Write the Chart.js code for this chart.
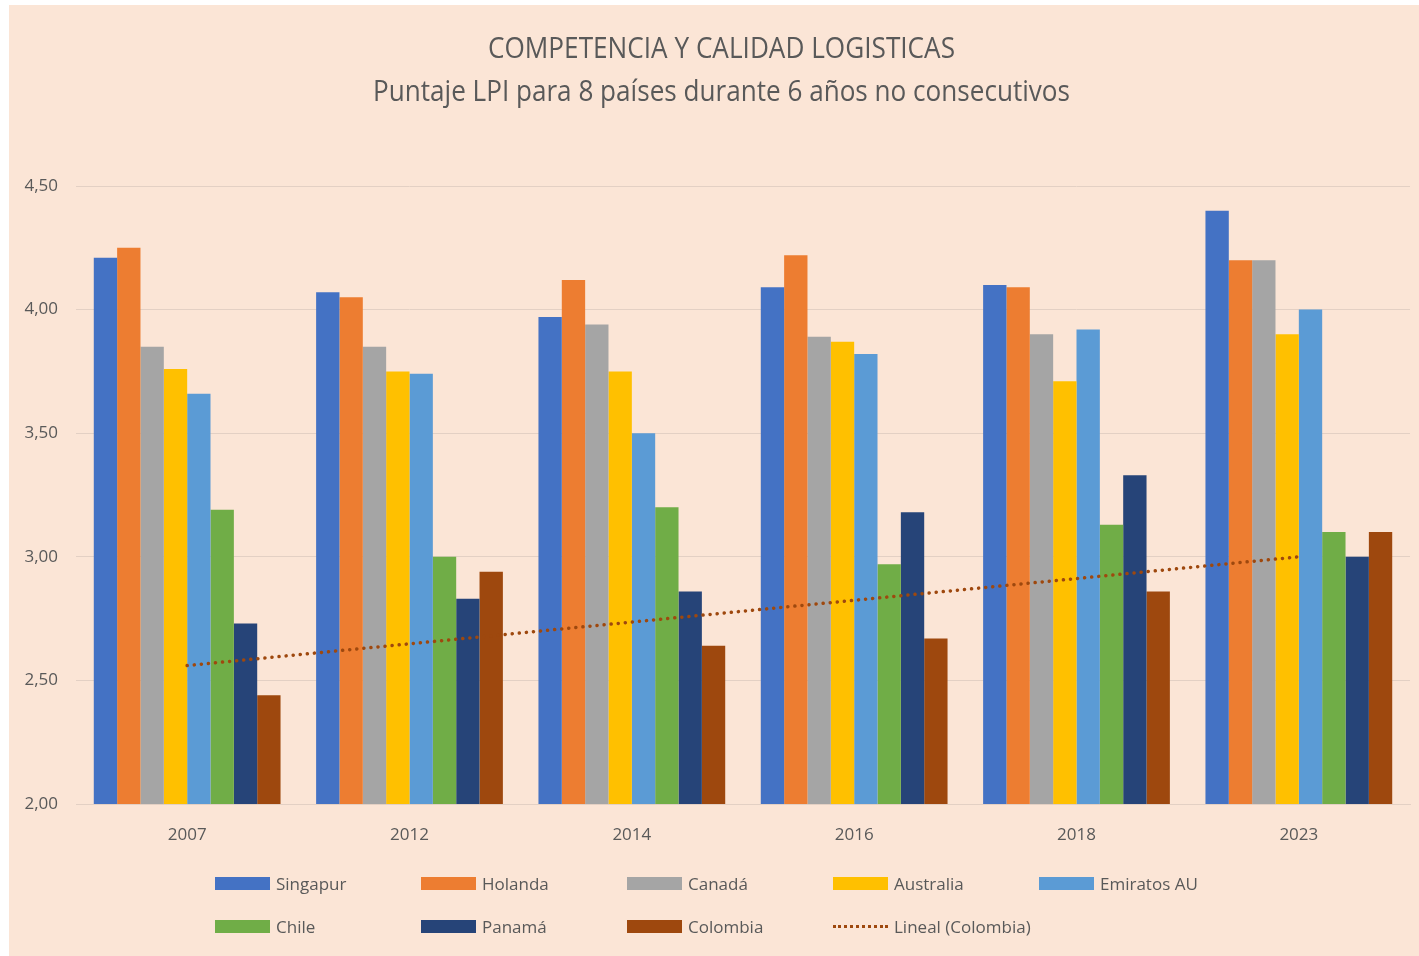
<!DOCTYPE html>
<html>
<head>
<meta charset="utf-8">
<script src="https://cdn.jsdelivr.net/npm/chart.js@4.4.1/dist/chart.umd.min.js"></script>
<style>
  html, body { margin: 0; padding: 0; background: #ffffff; }
  #wrap { position: absolute; left: 9px; top: 5px; width: 1410px; height: 951px; background: #FBE5D6; }
  #c { position: absolute; left: 0; top: 0; }
  #legend { position: absolute; left: 0; top: 0; width: 1410px; height: 951px; pointer-events: none;
            font-family: "Open Sans", sans-serif; font-size: 17px; color: #595959; }
  .item { position: absolute; display: flex; align-items: center; height: 24px; white-space: nowrap; }
  .swatch { width: 55px; height: 13px; margin-right: 6px; }
  .dotline { width: 55px; height: 0; margin-right: 6px; border-top: 3px dotted #9E480E; }
</style>
</head>
<body>
<div id="wrap">
  <canvas id="c" width="1410" height="951"></canvas>
  <div id="legend"></div>
</div>
<script>
const categories = ['2007', '2012', '2014', '2016', '2018', '2023'];
const singapur  = [4.21, 4.07, 3.97, 4.09, 4.10, 4.40];
const holanda   = [4.25, 4.05, 4.12, 4.22, 4.09, 4.20];
const canada    = [3.85, 3.85, 3.94, 3.89, 3.90, 4.20];
const australia = [3.76, 3.75, 3.75, 3.87, 3.71, 3.90];
const emiratos  = [3.66, 3.74, 3.50, 3.82, 3.92, 4.00];
const chile     = [3.19, 3.00, 3.20, 2.97, 3.13, 3.10];
const panama    = [2.73, 2.83, 2.86, 3.18, 3.33, 3.00];
const colombia  = [2.44, 2.94, 2.64, 2.67, 2.86, 3.10];
const linealColombia = [2.56, null, null, null, null, 3.00];
const yTickLabels = ['2,00', '2,50', '3,00', '3,50', '4,00', '4,50'];
const titleText = 'COMPETENCIA Y CALIDAD LOGISTICAS';
const subtitleText = 'Puntaje LPI para 8 países durante 6 años no consecutivos';

const barSeries = [
  { label: 'Singapur', data: singapur, color: '#4472C4' },
  { label: 'Holanda', data: holanda, color: '#ED7D31' },
  { label: 'Canadá', data: canada, color: '#A5A5A5' },
  { label: 'Australia', data: australia, color: '#FFC000' },
  { label: 'Emiratos AU', data: emiratos, color: '#5B9BD5' },
  { label: 'Chile', data: chile, color: '#70AD47' },
  { label: 'Panamá', data: panama, color: '#264478' },
  { label: 'Colombia', data: colombia, color: '#9E480E' }
];

const datasets = barSeries.map(s => ({
  type: 'bar', label: s.label, data: s.data,
  backgroundColor: s.color, borderWidth: 0, order: 1
}));
datasets.push({
  type: 'line', label: 'Lineal (Colombia)', data: linealColombia,
  borderColor: '#9E480E', borderWidth: 3.5, borderDash: [0.1, 7], borderCapStyle: 'round',
  pointRadius: 0, spanGaps: true, fill: false, order: 0
});

const titlePlugin = {
  id: 'squeezedTitle',
  afterDraw(chart) {
    const ctx = chart.ctx;
    const draw = (txt, size, cx, cy, targetW) => {
      ctx.save();
      ctx.font = size + 'px "Open Sans"';
      ctx.fillStyle = '#595959';
      ctx.textAlign = 'center';
      ctx.textBaseline = 'middle';
      const w = ctx.measureText(txt).width;
      const sx = targetW / w;
      ctx.translate(cx, cy);
      ctx.scale(sx, 1);
      ctx.fillText(txt, 0, 0);
      ctx.restore();
    };
    draw(titleText, 30, 712.5, 44, 467);
    draw(subtitleText, 29, 712.5, 88, 697);
  }
};

const chart = new Chart(document.getElementById('c'), {
  data: { labels: categories, datasets: datasets },
  options: {
    responsive: false,
    animation: false,
    devicePixelRatio: 1,
    layout: { padding: { left: 0, right: 9, top: 181, bottom: 0 } },
    plugins: { legend: { display: false }, title: { display: false }, tooltip: { enabled: false } },
    datasets: { bar: { categoryPercentage: 0.84, barPercentage: 1.0 } },
    scales: {
      x: {
        grid: { display: false, drawTicks: false },
        border: { display: true, color: '#E3D0C4', width: 1 },
        ticks: { color: '#595959', font: { family: 'Open Sans', size: 17 }, padding: 21 },
        afterFit(scale) { scale.height = 152; }
      },
      y: {
        min: 2, max: 4.5,
        grid: { color: '#E3D0C4', lineWidth: 1, drawTicks: false },
        border: { display: false },
        ticks: {
          stepSize: 0.5, color: '#595959', font: { family: 'Open Sans', size: 17 }, padding: 18,
          callback: (v, i) => yTickLabels[i]
        },
        afterFit(scale) { scale.width = 67; }
      }
    }
  },
  plugins: [titlePlugin]
});

// Legend laid out in Excel-like grid
const legend = document.getElementById('legend');
const legendEntries = datasets.map(d => ({ label: d.label, type: d.type, color: d.type === 'bar' ? d.backgroundColor : d.borderColor }));
legendEntries.forEach((e, i) => {
  const row = Math.floor(i / 5), col = i % 5;
  const div = document.createElement('div');
  div.className = 'item';
  div.style.left = (206 + col * 206) + 'px';
  div.style.top = (878 + row * 43 - 12) + 'px';
  const sw = document.createElement('div');
  if (e.type === 'bar') { sw.className = 'swatch'; sw.style.background = e.color; }
  else { sw.className = 'dotline'; }
  const tx = document.createElement('span');
  tx.textContent = e.label;
  div.appendChild(sw); div.appendChild(tx);
  legend.appendChild(div);
});
</script>
</body>
</html>
